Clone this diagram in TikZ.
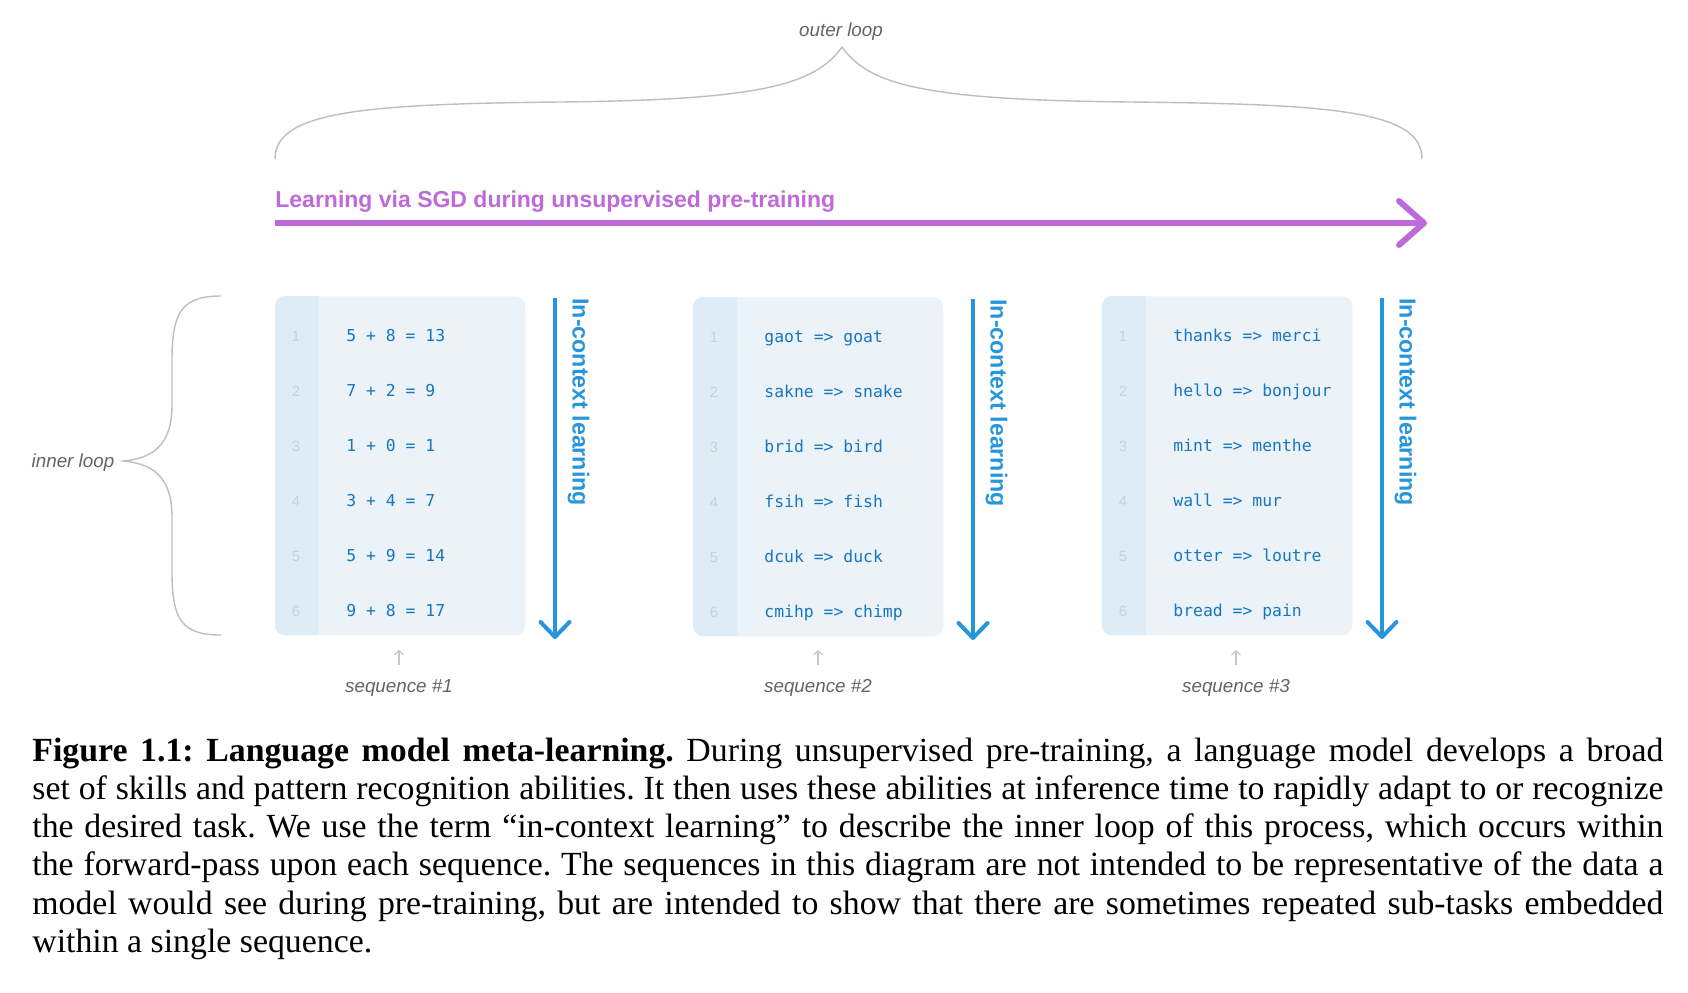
\documentclass[tikz,border=0pt]{standalone}
\usepackage{fontspec}
\setmainfont{Liberation Serif}
\setsansfont{Liberation Sans}
\setmonofont{DejaVu Sans Mono}
\usetikzlibrary{calc,arrows.meta}
\definecolor{purp}{RGB}{190,106,216}
\definecolor{arrowblue}{RGB}{38,150,220}
\definecolor{codeblue}{RGB}{24,118,190}
\definecolor{boxbg}{RGB}{235,243,248}
\definecolor{gutbg}{RGB}{222,236,245}
\definecolor{numgray}{RGB}{200,210,218}
\definecolor{lblgray}{RGB}{100,100,100}
\definecolor{bracegray}{RGB}{190,190,190}
\definecolor{seqgray}{RGB}{200,200,200}
\frenchspacing
\begin{document}
\begin{tikzpicture}[x=0.5pt,y=-0.5pt,
  lbl/.style={font=\sffamily\itshape\fontsize{9.4pt}{11pt}\selectfont, text=lblgray, inner sep=0},
  codetxt/.style={font=\ttfamily\fontsize{8.2pt}{10pt}\selectfont, text=codeblue, inner sep=0, anchor=base west},
  lineno/.style={font=\sffamily\fontsize{7.4pt}{9pt}\selectfont, text=numgray, inner sep=0, anchor=base},
  icl/.style={font=\sffamily\bfseries\fontsize{11.6pt}{14pt}\selectfont, text=arrowblue, inner sep=0, rotate=-90, anchor=west},
  titletxt/.style={font=\sffamily\bfseries\fontsize{11.5pt}{14pt}\selectfont, text=purp, inner sep=0, anchor=base west},
  bracestyle/.style={draw=bracegray, line width=0.7pt},
  seqbox/.style={fill=boxbg, rounded corners=5pt, minimum width=125pt, minimum height=169.5pt, inner sep=0, anchor=north west},
  iclline/.style={draw=arrowblue, line width=2pt},
  iclhead/.style={draw=arrowblue, line width=2pt, line cap=round, line join=round},
  seqarrow/.style={draw=seqgray, line width=0.6pt, -{Straight Barb[length=2pt,width=4.5pt]}},
  captiontxt/.style={font=\rmfamily\frenchspacing\fontsize{16.9pt}{19.15pt}\selectfont, text width=815.5pt, align=justify, inner sep=0, anchor=base west}
]
\fill[white] (0,0) rectangle (1688,992);
\useasboundingbox (0,0) rectangle (1688,992);

% outer loop
\node[lbl] (outer) at (841,32) {outer loop};
\coordinate (oL) at (275,159);
\coordinate (oC) at (842,47);
\coordinate (oR) at (1422,159);
\draw[bracestyle] (oL) .. controls (275,112) and (360,104) .. (560,102)
  .. controls (760,100) and (815,85) .. (oC)
  .. controls (869,85) and (924,100) .. (1130,102)
  .. controls (1340,104) and (1422,112) .. (oR);

% SGD arrow
\node[titletxt] (sgd) at (275,207) {Learning via SGD during unsupervised pre-training};
\coordinate (s0) at (275,223);
\coordinate (s1) at (1424,223);
\draw[draw=purp, line width=3pt] (s0) -- ($(s1)+(-3,0)$);
\draw[draw=purp, line width=3pt, line cap=round, line join=round] ($(s1)+(-25,-22)$) -- (s1) -- ($(s1)+(-25,22)$);

% inner loop
\node[lbl] (inner) at (73,463) {inner loop};
\coordinate (iT) at (221,296);
\coordinate (iC) at (124,461);
\coordinate (iB) at (221,635);
\draw[bracestyle] (iT) .. controls (182,296) and (172,312) .. (172,360)
  -- (172,405) .. controls (172,446) and (152,458) .. (iC)
  .. controls (152,464) and (172,476) .. (172,517)
  -- (172,572) .. controls (172,620) and (182,635) .. (iB);

% sequence boxes
\foreach \i/\L/\T/\sx in {1/275/296/399, 2/693/297/818, 3/1102/296/1236} {
  \node[seqbox] (b\i) at (\L,\T) {};
  \begin{scope}
    \clip[rounded corners=5pt] (\L,\T) rectangle ++(250,339);
    \fill[gutbg] (\L,\T) rectangle ++(44,339);
  \end{scope}
  \coordinate (at\i) at (\L+280,\T+2);
  \coordinate (ab\i) at (\L+280,\T+341);
  \draw[iclline] (at\i) -- (ab\i);
  \draw[iclhead] ($(ab\i)+(-14.5,-15)$) -- (ab\i) -- ($(ab\i)+(14.5,-15)$);
  \node[icl] (t\i) at (\L+303.5,\T+2) {In-context learning};
  \coordinate (ua\i) at (\sx,665);
  \coordinate (ub\i) at (\sx,650);
  \draw[seqarrow] (ua\i) -- (ub\i);
  \node[lbl] (seq\i) at (\sx,688) {sequence \#\i};
  \foreach \k in {1,...,6} {
    \node[lineno] (n\i-\k) at (\L+21,\T+45.5+\k*54.9-54.9) {\k};
  }
}

\foreach \txt [count=\k] in {5 + 8 = 13, 7 + 2 = 9, 1 + 0 = 1, 3 + 4 = 7, 5 + 9 = 14, 9 + 8 = 17}
  \node[codetxt] (c1-\k) at (275+71,296+45.5+\k*54.9-54.9) {\txt};
\foreach \txt [count=\k] in {gaot => goat, sakne => snake, brid => bird, fsih => fish, dcuk => duck, cmihp => chimp}
  \node[codetxt] (c2-\k) at (693+71,297+45.5+\k*54.9-54.9) {\txt};
\foreach \txt [count=\k] in {thanks => merci, hello => bonjour, mint => menthe, wall => mur, otter => loutre, bread => pain}
  \node[codetxt] (c3-\k) at (1102+71,296+45.5+\k*54.9-54.9) {\txt};

% caption
\node[captiontxt] (cap) at (32,761) {\textbf{Figure 1.1: Language model meta-learning.} During unsupervised pre-training, a language model develops a broad\linebreak
set of skills and pattern recognition abilities. It then uses these abilities at inference time to rapidly adapt to or recognize\linebreak
the desired task. We use the term ``in-context learning'' to describe the inner loop of this process, which occurs within\linebreak
the forward-pass upon each sequence. The sequences in this diagram are not intended to be representative of the data a\linebreak
model would see during pre-training, but are intended to show that there are sometimes repeated sub-tasks embedded\linebreak
within a single sequence.};
\end{tikzpicture}
\end{document}
